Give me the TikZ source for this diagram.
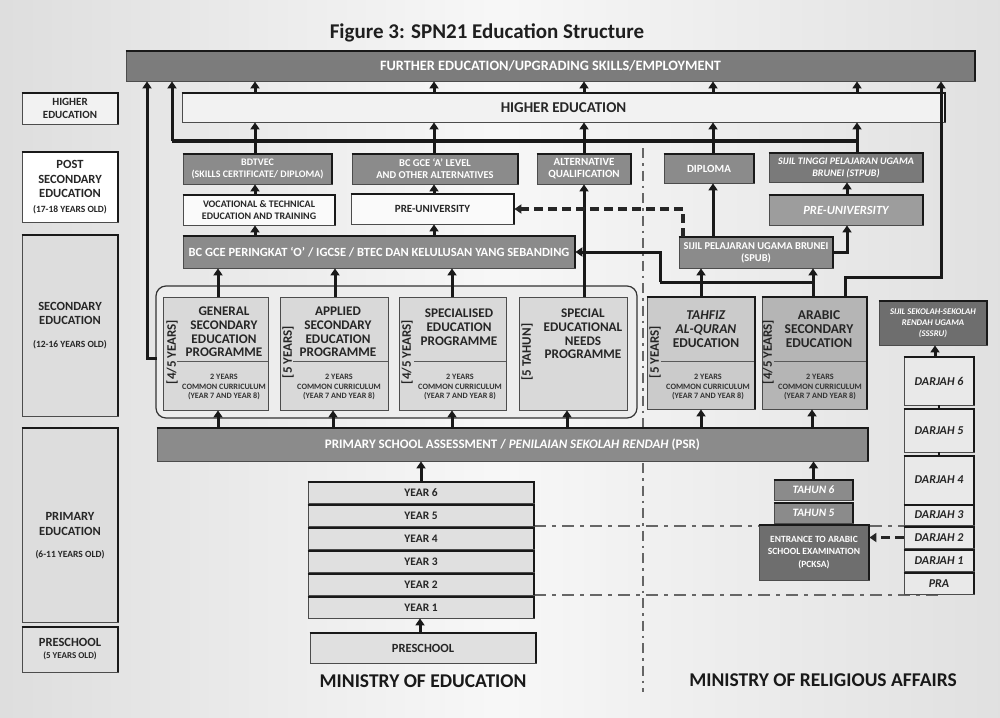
\documentclass[tikz,border=0pt]{standalone}
\usepackage{fontspec}
\setmainfont{Carlito}
\usetikzlibrary{arrows.meta}
\newcommand{\fsz}[2]{\fontsize{#1}{#2}\selectfont}
\definecolor{feC}{HTML}{7C7C7C}
\definecolor{gC}{HTML}{8B8B8B}
\definecolor{gC2}{HTML}{7A7A7A}
\definecolor{gC3}{HTML}{9D9D9D}
\definecolor{dC}{HTML}{6E6E6E}
\definecolor{progC}{HTML}{D9D9D9}
\definecolor{contC}{HTML}{EDEDED}
\definecolor{tahC}{HTML}{CBCBCB}
\definecolor{arabC}{HTML}{B5B5B5}
\definecolor{yrC}{HTML}{E0E0E0}
\definecolor{djC}{HTML}{E9E9E9}
\definecolor{secC}{HTML}{DDDDDD}
\definecolor{wC}{HTML}{FAFAFA}
\definecolor{heC}{HTML}{F2F2F2}
\pgfdeclarelayer{back}
\pgfdeclarelayer{lines}
\pgfsetlayers{back,lines,main}
\begin{document}
\begin{tikzpicture}[x=1pt,y=-1pt,
  every node/.style={font=\bfseries, inner sep=0pt, align=center},
  sz/.style 2 args={minimum width=#1pt, minimum height=#2pt},
  bx/.style={draw=black!70, line width=0.8pt},
  gbox/.style={bx, fill=gC, text=white},
  wbox/.style={bx, fill=wC, text=black!85},
  lcol/.style={bx, text=black!85},
  prog/.style={bx, fill=progC},
  yr/.style={bx, fill=yrC, text=black!85, font=\bfseries\fsz{11.5}{12}},
  dj/.style={bx, fill=djC, text=black!85, font=\bfseries\itshape\fsz{12}{12}},
  tah/.style={bx, fill=gC, text=white, font=\bfseries\itshape\fsz{11.3}{12}},
  conn/.style={draw=black!90, line width=3pt},
  arr/.style={conn, -{Triangle[length=7pt,width=9pt]}},
  darr/.style={draw=black!85, line width=3.5pt, dash pattern=on 9pt off 5pt, -{Triangle[length=7pt,width=9pt]}},
  ydash/.style={draw=black!60, line width=2pt, dash pattern=on 12pt off 6pt on 4pt off 6pt},
  divl/.style={draw=black!60, line width=2pt, dash pattern=on 10pt off 5pt on 2.5pt off 5pt},
  topedge/.style={draw=black!90, line width=2pt},
  side/.style={rotate=90, font=\bfseries\fsz{13}{14}, text=black!85},
  cc/.style={font=\bfseries\fsz{8.2}{9.8}, text=black!80},
  pt/.style={font=\bfseries\fsz{13.2}{13.8}, text=black!85},
  lt/.style={font=\bfseries\fsz{12.5}{14.5}, text=black!85},
  ministry/.style={font=\bfseries\fsz{19.5}{22}, text=black!90}
]
\begin{pgfonlayer}{back}
\shade[left color=black!13, right color=black!12, middle color=black!3] (0,0) rectangle (1000,717);
\end{pgfonlayer}
\useasboundingbox (0,0) rectangle (1000,717);

% title
\node[font=\bfseries\fsz{21}{23}, text=black!88] (title) at (487,33) {Figure 3: SPN21 Education Structure};

% top bars
\node[bx, fill=feC, text=white, sz={849}{30}, font=\bfseries\fsz{14.3}{15}] (fe) at (550.5,66) {FURTHER EDUCATION/UPGRADING SKILLS/EMPLOYMENT};
\node[bx, fill=heC, text=black!85, sz={763}{29}, font=\bfseries\fsz{15}{15}] (he) at (563.5,107.5) {HIGHER EDUCATION};

% left column
\node[lcol, fill=heC, sz={96}{31}, font=\bfseries\fsz{11}{12.5}] (lhe) at (70,108.5) {HIGHER\\EDUCATION};
\node[lcol, fill=white, sz={96}{70}, lt] (lps) at (70,187) {POST\\SECONDARY\\EDUCATION\\{\fsz{9.5}{11}(17-18 YEARS OLD)}};
\node[lcol, fill=secC, sz={96}{181}, lt] (lsec) at (70,325.5) {SECONDARY\\EDUCATION\\[8pt]{\fsz{9.5}{11}(12-16 YEARS OLD)}};
\node[lcol, fill=secC, sz={96}{194}] (lpri) at (70,525) {};
\node[lt] (lpriT) at (70,536) {PRIMARY\\EDUCATION\\[8pt]{\fsz{9.5}{11}(6-11 YEARS OLD)}};
\node[lcol, fill=yrC, sz={96}{45}, font=\bfseries\fsz{12.5}{12}] (lpre) at (70,649.5) {PRESCHOOL\\{\fsz{9}{10}(5 YEARS OLD)}};

% post-secondary (MOE)
\node[gbox, sz={149}{30}, font=\bfseries\fsz{10}{12}] (bdtvec) at (257.5,169) {BDTVEC\\(SKILLS CERTIFICATE/ DIPLOMA)};
\node[gbox, sz={166}{30}, font=\bfseries\fsz{10.5}{12}] (alevel) at (435,169) {BC GCE `A' LEVEL\\AND OTHER ALTERNATIVES};
\node[gbox, sz={94}{30}, font=\bfseries\fsz{11}{12}] (altq) at (584,169) {ALTERNATIVE\\QUALIFICATION};
\node[wbox, sz={152}{30}, font=\bfseries\fsz{10}{12}] (voc) at (259,210) {VOCATIONAL \& TECHNICAL\\EDUCATION AND TRAINING};
\node[wbox, sz={163}{30}, font=\bfseries\fsz{11}{12}] (preu) at (432.5,209) {PRE-UNIVERSITY};
\node[gbox, sz={392}{32}, font=\bfseries\fsz{12.5}{13}] (olevel) at (379,252) {BC GCE PERINGKAT `O' / IGCSE / BTEC DAN KELULUSAN YANG SEBANDING};

% secondary programmes (MOE)
\node[bx, line width=1.2pt, draw=black!80, fill=contC, rounded corners=10pt, sz={481}{132}] (cont) at (396.5,352) {};
\node[prog, sz={105}{113}] (gen) at (215.5,353.5) {};
\node[prog, sz={108}{113}] (app) at (334,353.5) {};
\node[prog, sz={107}{113}] (spe) at (452.5,353.5) {};
\node[prog, sz={108}{113}] (sen) at (573,353.5) {};
\draw[black!65, line width=1pt] (177,361) -- (gen.east |- 177,361);
\draw[black!65, line width=1pt] (293,361) -- (app.east |- 293,361);
\draw[black!65, line width=1pt] (414,361) -- (spe.east |- 414,361);
\node[side] (genL) at (172,352) {[4/5 YEARS]};
\node[side] (appL) at (288,352) {[5 YEARS]};
\node[side] (speL) at (407,352) {[4/5 YEARS]};
\node[side] (senL) at (527,352) {[5 TAHUN]};
\node[pt] (genT) at (224,332) {GENERAL\\SECONDARY\\EDUCATION\\PROGRAMME};
\node[pt] (appT) at (338,332) {APPLIED\\SECONDARY\\EDUCATION\\PROGRAMME};
\node[pt] (speT) at (459,327) {SPECIALISED\\EDUCATION\\PROGRAMME};
\node[pt] (senT) at (583,334) {SPECIAL\\EDUCATIONAL\\NEEDS\\PROGRAMME};
\node[cc] (genC) at (224,387) {2 YEARS\\COMMON CURRICULUM\\(YEAR 7 AND YEAR 8)};
\node[cc] (appC) at (339,387) {2 YEARS\\COMMON CURRICULUM\\(YEAR 7 AND YEAR 8)};
\node[cc] (speC) at (460,387) {2 YEARS\\COMMON CURRICULUM\\(YEAR 7 AND YEAR 8)};

% PSR
\node[bx, fill=gC, text=white, sz={711}{33}, font=\bfseries\fsz{13}{14}] (psr) at (512.5,444.5) {PRIMARY SCHOOL ASSESSMENT / \textit{PENILAIAN SEKOLAH RENDAH} (PSR)};

% primary years
\node[yr, sz={226}{21}] (y6) at (421,492.5) {YEAR 6};
\node[yr, sz={226}{21}] (y5) at (421,515.5) {YEAR 5};
\node[yr, sz={226}{21}] (y4) at (421,538.5) {YEAR 4};
\node[yr, sz={226}{21}] (y3) at (421,561.5) {YEAR 3};
\node[yr, sz={226}{21}] (y2) at (421,584.5) {YEAR 2};
\node[yr, sz={226}{21}] (y1) at (421,607.5) {YEAR 1};
\node[yr, sz={226}{30}, font=\bfseries\fsz{12.5}{13}] (pre) at (423,648) {PRESCHOOL};
\node[ministry] (moe) at (423,681) {MINISTRY OF EDUCATION};
\node[ministry] (mora) at (823,680) {MINISTRY OF RELIGIOUS AFFAIRS};

% religious affairs side
\node[gbox, sz={90}{29}, font=\bfseries\fsz{11}{12}] (dip) at (709,168.5) {DIPLOMA};
\node[bx, fill=gC2, text=white, sz={154}{29}, font=\bfseries\itshape\fsz{10}{12}] (stpub) at (846,167.5) {SIJIL TINGGI PELAJARAN UGAMA\\BRUNEI (STPUB)};
\node[bx, fill=gC3, text=white, sz={154}{30}, font=\bfseries\itshape\fsz{12.5}{13}] (preu2) at (846,210) {PRE-UNIVERSITY};
\node[gbox, sz={154}{31}, font=\bfseries\fsz{10.5}{12}] (spub) at (756,252.5) {SIJIL PELAJARAN UGAMA BRUNEI\\(SPUB)};
\node[bx, fill=tahC, sz={108}{112}] (tah) at (701,353) {};
\node[bx, fill=arabC, sz={105}{112}] (arab) at (814.5,353) {};
\draw[black!65, line width=1pt] (661,361) -- (tah.east |- 661,361);
\draw[black!65, line width=1pt] (774,361) -- (arab.east |- 774,361);
\node[side] (tahL) at (655,352) {[5 YEARS]};
\node[side] (arabL) at (768,352) {[4/5 YEARS]};
\node[pt, font=\bfseries\fsz{13.5}{13.8}] (tahT) at (706,329) {\textit{TAHFIZ}\\\textit{AL-QURAN}\\EDUCATION};
\node[pt, font=\bfseries\fsz{13.5}{13.8}] (arabT) at (819,329) {ARABIC\\SECONDARY\\EDUCATION};
\node[cc] (tahC) at (708,387) {2 YEARS\\COMMON CURRICULUM\\(YEAR 7 AND YEAR 8)};
\node[cc] (arabC) at (820,387) {2 YEARS\\COMMON CURRICULUM\\(YEAR 7 AND YEAR 8)};
\node[bx, fill=dC, text=white, sz={108}{44}, font=\bfseries\itshape\fsz{8.7}{10.8}] (sssru) at (933,323) {SIJIL SEKOLAH-SEKOLAH\\RENDAH UGAMA\\(SSSRU)};
\node[dj, sz={70}{48}] (d6) at (939,381) {DARJAH 6};
\node[dj, sz={70}{43}] (d5) at (939,430.5) {DARJAH 5};
\node[dj, sz={70}{48}] (d4) at (939,480) {DARJAH 4};
\node[dj, sz={70}{20}] (d3) at (939,515) {DARJAH 3};
\node[dj, sz={70}{21}] (d2) at (939,537.5) {DARJAH 2};
\node[dj, sz={70}{21}] (d1) at (939,560.5) {DARJAH 1};
\node[dj, sz={70}{21}] (pra) at (939,583.5) {PRA};
\node[tah, sz={79}{20}] (t6) at (813.5,490) {TAHUN 6};
\node[tah, sz={79}{20}] (t5) at (813.5,513) {TAHUN 5};

% background lines
\begin{pgfonlayer}{lines}
\coordinate (dvT) at (643,148);
\coordinate (dvB) at (643,692);
\draw[divl] (dvT) -- (dvB);
\draw[ydash] (y5.south east) -- (y5.south east -| d2.west);
\draw[ydash] (y2.south east) -- (y2.south east -| pra.south);
\end{pgfonlayer}

\node[bx, fill=dC, text=white, sz={110}{55}, font=\bfseries\fsz{9.5}{12.5}] (pcksa) at (814,552.5) {ENTRANCE TO ARABIC\\SCHOOL EXAMINATION\\(PCKSA)};

% heavy top/right edges
\foreach \n in {lhe,lps,lsec,lpri,lpre,fe,he,bdtvec,alevel,altq,voc,preu,olevel,psr,y6,y5,y4,y3,y2,y1,pre,dip,stpub,preu2,spub,tah,arab,sssru,d6,d5,d4,d3,d2,d1,pra,t6,t5,pcksa}
  \draw[topedge] (\n.north west) -- (\n.north east) -- (\n.south east);

% connectors: bus under higher education
\coordinate (busL) at (172,141);
\coordinate (busR) at (858,141);
\draw[conn, line width=4.5pt] (busL) -- (busR);
\draw[arr] (busL) -- (busL |- fe.south);
\foreach \xx/\n in {255/bdtvec,434/alevel,584/altq,713/dip,857/stpub}
  \draw[arr] (\xx,0 |- \n.north) -- (\xx,0 |- he.south);
\foreach \xx in {255,434,584,713,857}
  \draw[arr] (\xx,0 |- he.north) -- (\xx,0 |- fe.south);

% MOE post-secondary
\draw[arr] (255,0 |- olevel.north) -- (255,0 |- voc.south);
\draw[arr] (255,0 |- voc.north) -- (255,0 |- bdtvec.south);
\draw[arr] (434,0 |- olevel.north) -- (434,0 |- preu.south);
\draw[arr] (434,0 |- preu.north) -- (434,0 |- alevel.south);
\foreach \xx/\n in {218/gen,335/app,452/spe}
  \draw[arr] (\xx,0 |- \n.north) -- (\xx,0 |- olevel.south);
\draw[arr] (584,0 |- sen.north) -- (584,0 |- altq.south);

% programmes to further education (left)
\coordinate (gl) at (157,358);
\coordinate (glx) at (147,358);
\draw[arr] (gl) -- (glx) -- (glx |- fe.south);

% PSR to programmes
\foreach \xx/\n in {218/gen,333/app,452/spe,567/sen,701/tah,812/arab}
  \draw[arr] (\xx,0 |- psr.north) -- (\xx,0 |- \n.south);
\draw[arr] (421,0 |- y6.north) -- (421,0 |- psr.south);
\draw[arr] (t6.north) -- (t6.north |- psr.south);
\draw[arr] (420,0 |- pre.north) -- (420,0 |- y1.south);

% religious affairs
\draw[arr] (701,0 |- tah.north) -- (701,0 |- spub.south);
\draw[arr] (813,0 |- arab.north) -- (813,0 |- spub.south);
\coordinate (sb1) at (660,282);
\coordinate (sb2) at (813,282);
\draw[conn] (sb1) -- (sb2);
\draw[arr] (sb1) |- (olevel.east);
\draw[arr] (713,0 |- spub.north) -- (713,0 |- dip.south);
\draw[arr] (spub.east) -| (847,0 |- preu2.south);
\draw[arr] (847,0 |- preu2.north) -- (847,0 |- stpub.south);
\draw[darr] (683,0 |- spub.north) |- (preu.east);
\coordinate (arT) at (845,277);
\coordinate (arR) at (941,277);
\draw[arr] (arT |- arab.north) -- (arT) -- (arR) -- (arR |- fe.south);
\draw[arr] (935,0 |- d6.north) -- (935,0 |- sssru.south);
\draw[conn, line width=2pt] (d6.south) -- (d5.north);
\draw[conn, line width=2pt] (d5.south) -- (d4.north);
\draw[darr] (d2.west) -- (pcksa.east |- d2.west);
\end{tikzpicture}
\end{document}
